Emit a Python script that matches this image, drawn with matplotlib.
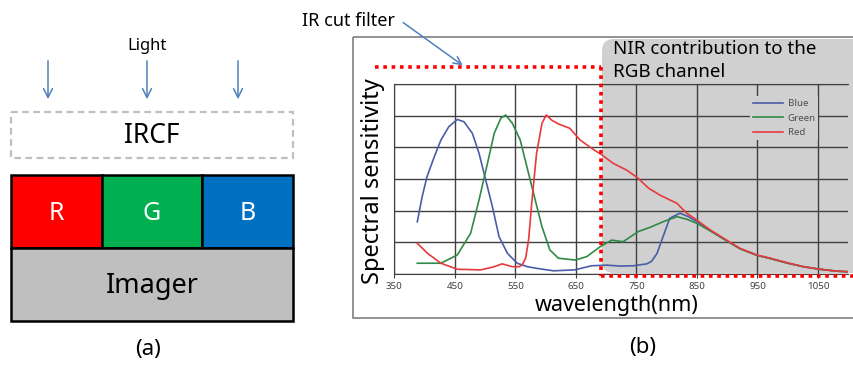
import matplotlib
matplotlib.use('Agg')
import matplotlib.pyplot as plt
from matplotlib.patches import Rectangle, FancyBboxPatch

plt.rcParams['font.family'] = ['Noto Sans', 'DejaVu Sans']

# spectral sensitivity curves (wavelength nm, grid units 0-6)
blue_wl = [388, 396, 404, 416, 427, 440, 454, 465, 479, 490, 501, 512, 523, 537, 553,
           570, 585, 613, 648, 676, 701, 723, 745, 767, 775, 784, 794, 805, 822, 836,
           850, 872, 899, 921, 949, 971, 998, 1026, 1053, 1081, 1100]
blue_v = [1.65, 2.44, 3.07, 3.70, 4.23, 4.65, 4.88, 4.81, 4.44, 3.81, 2.97, 2.13, 1.18, 0.65, 0.34,
          0.23, 0.18, 0.10, 0.13, 0.26, 0.28, 0.25, 0.26, 0.32, 0.40, 0.65, 1.18, 1.76, 1.92, 1.81,
          1.65, 1.37, 1.05, 0.80, 0.59, 0.49, 0.35, 0.23, 0.15, 0.09, 0.07]

green_wl = [388, 427, 454, 476, 490, 504, 515, 526, 534, 545, 558, 569, 580, 594, 607,
            621, 649, 668, 690, 709, 728, 753, 772, 794, 817, 833, 850, 872, 899, 921,
            949, 971, 998, 1026, 1053, 1081, 1100]
green_v = [0.34, 0.34, 0.60, 1.28, 2.34, 3.50, 4.44, 4.92, 5.02, 4.76, 4.23, 3.39, 2.55, 1.49, 0.76,
           0.50, 0.44, 0.55, 0.86, 1.07, 1.02, 1.34, 1.47, 1.65, 1.81, 1.73, 1.60, 1.36, 1.05, 0.80,
           0.59, 0.49, 0.35, 0.23, 0.15, 0.09, 0.07]

red_wl = [388, 405, 427, 454, 493, 515, 528, 545, 556, 561, 567, 572, 577, 585, 594,
          601, 610, 621, 640, 657, 676, 693, 712, 734, 753, 770, 789, 817, 833, 850,
          872, 899, 921, 949, 971, 998, 1026, 1053, 1081, 1100]
red_v = [0.97, 0.65, 0.34, 0.15, 0.13, 0.23, 0.32, 0.23, 0.23, 0.28, 0.50, 1.10, 2.23, 3.81, 4.76,
         5.02, 4.86, 4.74, 4.60, 4.23, 3.97, 3.76, 3.49, 3.28, 3.02, 2.71, 2.49, 2.23, 1.92, 1.70,
         1.39, 1.07, 0.81, 0.60, 0.50, 0.36, 0.23, 0.15, 0.09, 0.07]

xticks = [350, 450, 550, 650, 750, 850, 950, 1050]
filters = ['R', 'G', 'B']
filter_colors = ['#ff0000', '#00b050', '#0070c0']

W, H = 854, 369
fig = plt.figure(figsize=(W / 100, H / 100), dpi=100)

# background overlay in pixel units
bg = fig.add_axes([0, 0, 1, 1], zorder=0)
bg.set_xlim(0, W)
bg.set_ylim(H, 0)
bg.axis('off')

arrow_blue = '#4f81bd'

# ---- panel (a)
bg.text(147, 46, 'Light', ha='center', va='center', fontsize=12)
for x in [48, 147, 238]:
    bg.annotate('', xy=(x, 102), xytext=(x, 58),
                arrowprops=dict(arrowstyle='->', color=arrow_blue, lw=1.1, mutation_scale=16))
bg.add_patch(Rectangle((11, 112), 282, 46, fill=False, ec='#bfbfbf', lw=1.6, ls=(0, (3, 2))))
bg.text(152, 136, 'IRCF', ha='center', va='center', fontsize=19)

edges = [11, 102, 202, 293]
for i, f in enumerate(filters):
    bg.add_patch(Rectangle((edges[i], 175), edges[i + 1] - edges[i], 73,
                           fc=filter_colors[i], ec='black', lw=1.8))
    bg.text((edges[i] + edges[i + 1]) / 2, 213, f, ha='center', va='center',
            fontsize=18, color='white')
bg.add_patch(Rectangle((11, 248), 282, 73, fc='#bfbfbf', ec='black', lw=1.8))
bg.text(152, 286, 'Imager', ha='center', va='center', fontsize=19.5)
bg.text(148, 349, '(a)', ha='center', va='center', fontsize=16)

# ---- panel (b) frame and NIR region
bg.add_patch(Rectangle((353, 37), 510, 281, fill=False, ec='#7f7f7f', lw=1.2))
bg.add_patch(FancyBboxPatch((602, 39), 262, 234, boxstyle='round,pad=0,rounding_size=12',
                            fc='#d0d0d0', ec='none'))

# ---- data axes
left, right, top, bottom = 394.3, 848.3, 84, 274
ax = fig.add_axes([left / W, (H - bottom) / H, (right - left) / W, (bottom - top) / H], zorder=1)
ax.set_facecolor('none')
gc = '#404040'
ax.plot(blue_wl, blue_v, color='#4a5da8', lw=1.2, label='Blue')
ax.plot(green_wl, green_v, color='#2f8a45', lw=1.2, label='Green')
ax.plot(red_wl, red_v, color='#e8393c', lw=1.2, label='Red')
ax.set_xlim(350, 1100)
ax.set_ylim(0, 6)
ax.set_xticks(xticks)
ax.set_xticklabels([str(t) for t in xticks], fontsize=7, fontweight='bold', color='#404040')
ax.set_yticks(range(7))
ax.set_yticklabels([])
ax.tick_params(axis='y', length=0)
ax.tick_params(axis='x', length=3, color=gc, pad=3)
ax.grid(True, color=gc, lw=1.0)
ax.set_axisbelow(True)
for s in ['left', 'bottom', 'top']:
    ax.spines[s].set_color(gc)
ax.spines['right'].set_visible(False)
leg = ax.legend(loc='upper left', bbox_to_anchor=(0.772, 0.96), fontsize=7, frameon=True,
                facecolor='#d0d0d0', edgecolor='none', framealpha=1, handlelength=3.1,
                handletextpad=0.5, labelspacing=0.55, borderpad=0.3, fancybox=False)
for t in leg.get_texts():
    t.set_color('#505050')

# ---- foreground overlay
fg = fig.add_axes([0, 0, 1, 1], zorder=2)
fg.set_xlim(0, W)
fg.set_ylim(H, 0)
fg.axis('off')
fg.patch.set_alpha(0)

dot = dict(color='#ff0000', lw=2.6, ls=(0, (1, 1.3)), solid_capstyle='butt')
fg.plot([375, 601], [67, 67], **dot)
fg.plot([601, 601], [67, 276], **dot)
fg.plot([601, 854], [276, 276], **dot)

fg.text(302, 21, 'IR cut filter', ha='left', va='center', fontsize=13)
fg.annotate('', xy=(465, 67), xytext=(401, 21),
            arrowprops=dict(arrowstyle='->', color=arrow_blue, lw=1.1, mutation_scale=14))
fg.text(613, 49, 'NIR contribution to the', ha='left', va='center', fontsize=13.5)
fg.text(613, 72, 'RGB channel', ha='left', va='center', fontsize=13.5)
fg.text(373, 181, 'Spectral sensitivity', ha='center', va='center', rotation=90, fontsize=17)
fg.text(617, 305, 'wavelength(nm)', ha='center', va='center', fontsize=15.5)
fg.text(643, 348, '(b)', ha='center', va='center', fontsize=16)

fig.savefig('out.png', dpi=100)
